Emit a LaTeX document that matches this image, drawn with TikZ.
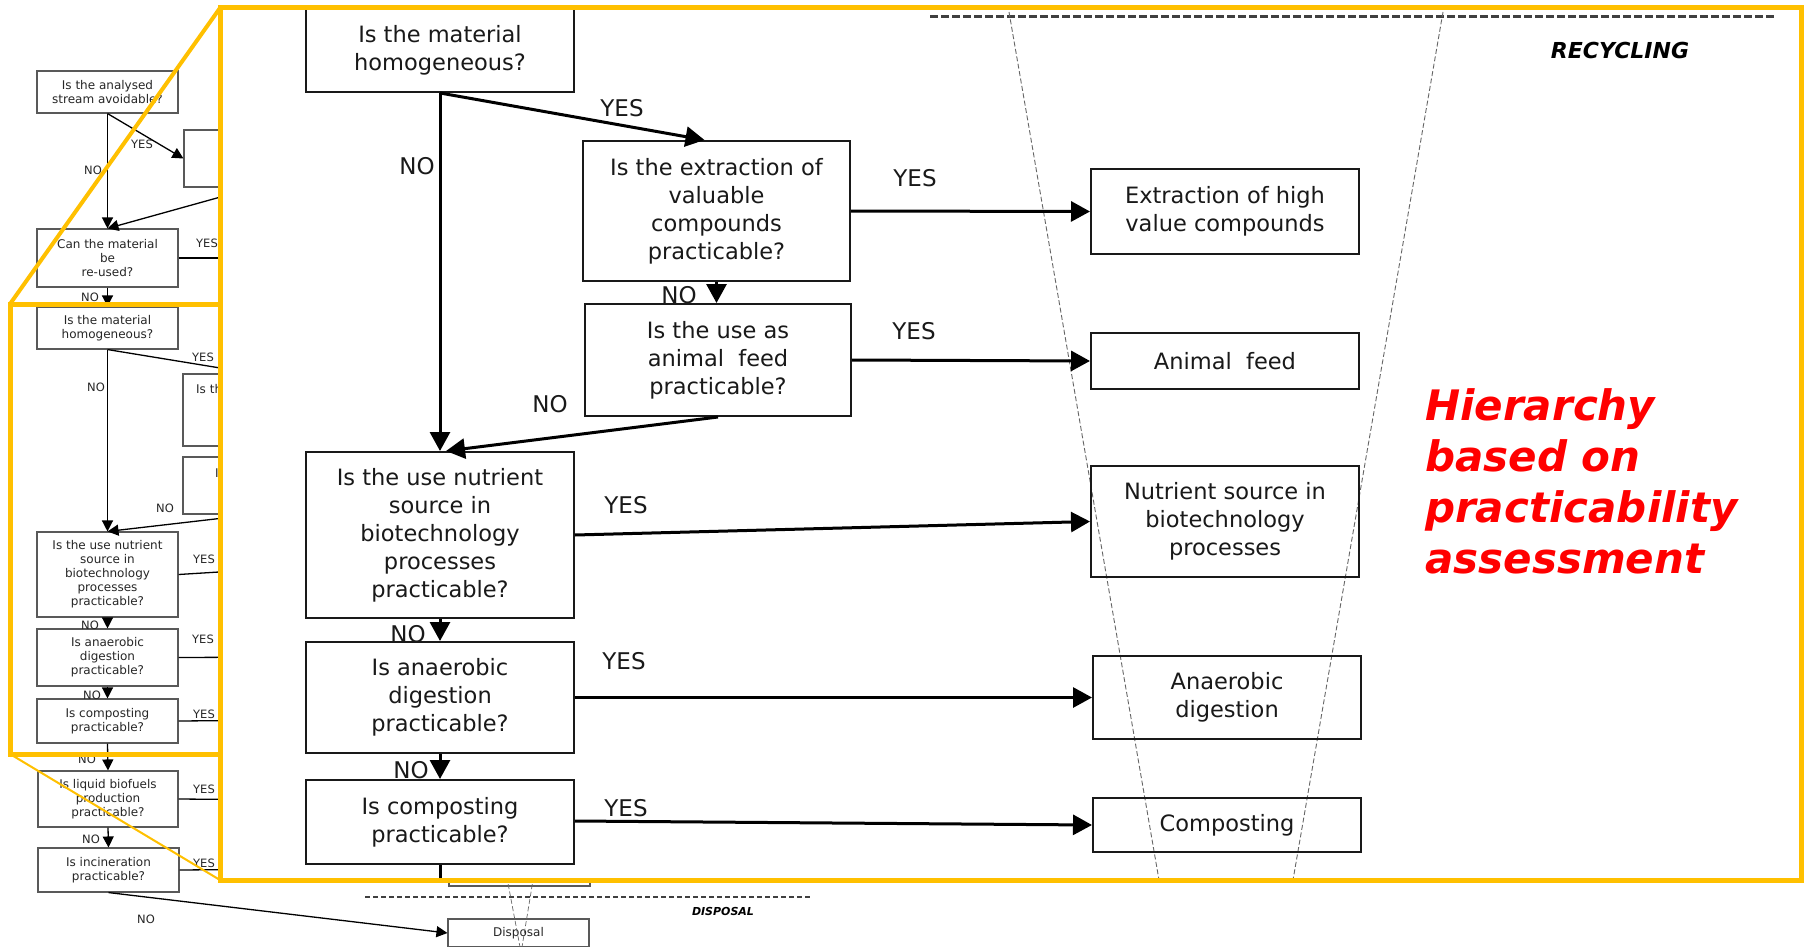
\documentclass[tikz,border=0pt]{standalone}
\usepackage{fontspec}
\setmainfont{DejaVu Sans}[BoldFont={DejaVu Sans Bold}, ItalicFont={DejaVu Sans Oblique}, BoldItalicFont={DejaVu Sans Bold Oblique}]
\usetikzlibrary{arrows.meta,calc}
\definecolor{zoomyellow}{HTML}{FFC000}
\definecolor{hred}{HTML}{FF0000}
\begin{document}
\begin{tikzpicture}[x=1pt,y=-1pt,
 sbox/.style={draw=black!65, line width=1.1pt, inner sep=0pt, align=center, font=\fontsize{12}{14}\selectfont, text=black!85},
 sline/.style={line width=1.3pt, black},
 sarrow/.style={sline, -{Triangle[length=11pt,width=11pt]}},
 slabel/.style={font=\fontsize{11.5}{14}\selectfont, inner sep=0pt, text=black!85},
 bbox/.style={draw=black!90, line width=2pt, inner sep=0pt, align=center, font=\fontsize{22.5}{28}\selectfont, text=black!90},
 bline/.style={line width=3pt, black},
 barrow/.style={bline, -{Triangle[length=19pt,width=20pt]}},
 blabel/.style={font=\fontsize{23}{28}\selectfont, inner sep=0pt, text=black!90},
 funnel/.style={draw=black!60, line width=0.9pt, dash pattern=on 5pt off 2.5pt},
 levelline/.style={draw=black!75, line width=3pt, dash pattern=on 8pt off 3pt},
 smalllevel/.style={draw=black!75, line width=1.3pt, dash pattern=on 5pt off 3pt},
 leveltext/.style={font=\bfseries\itshape, inner sep=0pt},
 zoomframe/.style={draw=zoomyellow, line width=5pt},
 redtext/.style={font=\fontsize{42}{51}\selectfont\bfseries\itshape, text=hred, inner sep=0pt, align=left}
]
\useasboundingbox (0,0) rectangle (1806,947);
\fill[white] (0,0) rectangle (1806,947);

% ---------------- background (original scale) flowchart ----------------
\node[sbox, minimum width=141pt, minimum height=42pt] (av) at (107.5,92) {Is the analysed\\stream avoidable?};
\node[sbox, minimum width=141pt, minimum height=57pt] (prev) at (254.5,158.5) {};
\node[sbox, minimum width=141pt, minimum height=58pt] (can) at (107.5,258) {Can the material\\be\\re-used?};
\node[sbox, minimum width=141pt, minimum height=42pt] (homs) at (107.5,328) {Is the material\\homogeneous?};
\node[sbox, minimum width=141pt, minimum height=72pt] (exts) at (253.5,410) {};
\node[slabel, anchor=base west, font=\fontsize{12}{14}\selectfont] (extsfrag) at (196,393) {Is th};
\node[sbox, minimum width=141pt, minimum height=57pt] (anis) at (253.5,485.5) {};
\node[slabel, anchor=base west, font=\fontsize{12}{14}\selectfont] (anisfrag) at (215,477) {I};
\node[sbox, minimum width=141pt, minimum height=85pt] (nuts) at (107.5,574.5) {Is the use nutrient\\source in\\biotechnology\\processes\\practicable?};
\node[sbox, minimum width=141pt, minimum height=57pt] (anas) at (107.5,657.5) {Is anaerobic\\digestion\\practicable?};
\node[sbox, minimum width=141pt, minimum height=44pt] (coms) at (107.5,721) {Is composting\\practicable?};
\node[sbox, minimum width=140pt, minimum height=56pt] (liqs) at (108,799) {Is liquid biofuels\\production\\practicable?};
\node[sbox, minimum width=141pt, minimum height=44pt] (incs) at (108.5,870) {Is incineration\\practicable?};
\node[sbox, minimum width=141pt, minimum height=28pt] (incres) at (519.5,872) {};
\node[sbox, minimum width=141pt, minimum height=28pt] (disp) at (518.5,933) {Disposal};

\coordinate (canyes) at (300,258);
\coordinate (nutyes) at (300,567);
\coordinate (anayes) at (300,657);
\coordinate (comyes) at (300,720);
\coordinate (liqyes) at (300,800);
\coordinate (incyes) at (300,869);

\draw[sarrow] (av.south) -- (can.north);
\draw[sarrow] (av.south) -- (prev.west);
\draw[sarrow] (prev.south) -- (can.north);
\draw[sline] (can.east) -- (canyes);
\draw[sarrow] (can.south) -- (homs.north);
\draw[sarrow] (homs.south) -- (exts.north);
\draw[sarrow] (homs.south) -- (nuts.north);
\draw[sarrow] (anis.south) -- (nuts.north);
\draw[sline] (nuts.east) -- (nutyes);
\draw[sarrow] (nuts.south) -- (anas.north);
\draw[sline] (anas.east) -- (anayes);
\draw[sarrow] (anas.south) -- (coms.north);
\draw[sline] (coms.east) -- (comyes);
\draw[sarrow] (coms.south) -- (liqs.north);
\draw[sline] (liqs.east) -- (liqyes);
\draw[sarrow] (liqs.south) -- (incs.north);
\draw[sline] (incs.east) -- (incyes);
\draw[sarrow] (incs.south) -- (disp.west);

\node[slabel] (l1) at (142,144) {YES};
\node[slabel] (l2) at (93,170) {NO};
\node[slabel] (l3) at (207,243) {YES};
\node[slabel] (l4) at (90,297) {NO};
\node[slabel] (l5) at (203,357) {YES};
\node[slabel] (l6) at (96,387) {NO};
\node[slabel] (l7) at (165,508) {NO};
\node[slabel] (l8) at (204,559) {YES};
\node[slabel] (l9) at (90,625) {NO};
\node[slabel] (l10) at (203,639) {YES};
\node[slabel] (l11) at (92,695) {NO};
\node[slabel] (l12) at (204,714) {YES};
\node[slabel] (l13) at (87,759) {NO};
\node[slabel] (l14) at (204,789) {YES};
\node[slabel] (l15) at (91,839) {NO};
\node[slabel] (l16) at (204,863) {YES};
\node[slabel] (l17) at (146,919) {NO};

% disposal level
\coordinate (dlA) at (365,897);
\coordinate (dlB) at (810,897);
\draw[smalllevel] (dlA) -- (dlB);
\node[leveltext, font=\fontsize{11}{13}\selectfont\bfseries\itshape] (disptxt) at (723,911) {DISPOSAL};
\coordinate (sfA) at (504,862);
\coordinate (sfB) at (520,947);
\coordinate (sfC) at (536,862);
\coordinate (sfD) at (522,947);
\draw[funnel, line width=0.7pt] (sfA) -- (sfB);
\draw[funnel, line width=0.7pt] (sfC) -- (sfD);

% ---------------- zoomed view ----------------
\coordinate (zTL) at (220,8);
\coordinate (zBR) at (1801,880);
\fill[white] (zTL) rectangle (zBR);
\begin{scope}
\clip (zTL) rectangle (zBR);
% level line and funnel
\coordinate (rlA) at (930,17);
\coordinate (rlB) at (1776,17);
\draw[levelline] (rlA) -- (rlB);
\node[leveltext, font=\fontsize{22}{26}\selectfont\bfseries\itshape] (rectxt) at (1620,50) {RECYCLING};
\coordinate (fA) at (1009,12);
\coordinate (fB) at (1159,880);
\coordinate (fC) at (1443,12);
\coordinate (fD) at (1293,880);
\draw[funnel] (fA) -- (fB);
\draw[funnel] (fC) -- (fD);

% questions
\node[bbox, minimum width=268pt, minimum height=84pt] (hom) at (440,50) {Is the material\\homogeneous?};
\node[bbox, minimum width=267pt, minimum height=140pt] (ext) at (716.5,211) {Is the extraction of\\valuable\\compounds\\practicable?};
\node[bbox, minimum width=266pt, minimum height=112pt] (ani) at (718,360) {Is the use as\\animal\ \ feed\\practicable?};
\node[bbox, minimum width=268pt, minimum height=166pt] (nut) at (440,535) {Is the use nutrient\\source in\\biotechnology\\processes\\practicable?};
\node[bbox, minimum width=268pt, minimum height=111pt] (ana) at (440,697.5) {Is anaerobic\\digestion\\practicable?};
\node[bbox, minimum width=268pt, minimum height=84pt] (com) at (440,822) {Is composting\\practicable?};
% results
\node[bbox, minimum width=268pt, minimum height=85pt] (r1) at (1225,211.5) {Extraction of high\\value compounds};
\node[bbox, minimum width=268pt, minimum height=56pt] (r2) at (1225,361) {Animal\ \ feed};
\node[bbox, minimum width=268pt, minimum height=111pt] (r3) at (1225,521.5) {Nutrient source in\\biotechnology\\processes};
\node[bbox, minimum width=268pt, minimum height=83pt] (r4) at (1227,697.5) {Anaerobic\\digestion};
\node[bbox, minimum width=268pt, minimum height=54pt] (r5) at (1227,825) {Composting};

% connectors
\draw[barrow] (hom.south) -- ($(ext.north)+(-12,0)$);
\draw[barrow] (hom.south) -- (nut.north);
\draw[barrow] (ext.south) -- (ext.south |- ani.north);
\draw[barrow] (ani.south) -- ($(nut.north)+(6,0)$);
\draw[barrow] (ext.east) -- (r1.west);
\draw[barrow] (ani.east) -- (r2.west);
\draw[barrow] (nut.east) -- (r3.west);
\draw[barrow] (ana.east) -- (r4.west);
\draw[barrow] ($(com.east)+(0,-1)$) -- (r5.west);
\draw[barrow] (nut.south) -- (ana.north);
\draw[barrow] (ana.south) -- (com.north);
\coordinate (comdown) at (440,900);
\draw[bline] (com.south) -- (comdown);

% labels
\node[blabel] (b1) at (622,108) {YES};
\node[blabel] (b2) at (417,166) {NO};
\node[blabel] (b3) at (915,178) {YES};
\node[blabel] (b4) at (679,295) {NO};
\node[blabel] (b5) at (914,331) {YES};
\node[blabel] (b6) at (550,404) {NO};
\node[blabel] (b7) at (626,505) {YES};
\node[blabel] (b8) at (408,634) {NO};
\node[blabel] (b9) at (624,661) {YES};
\node[blabel] (b10) at (411,770) {NO};
\node[blabel] (b11) at (626,808) {YES};

\node[redtext, anchor=north west] (hier) at (1425,388) {Hierarchy\\based on\\practicability\\assessment};
\end{scope}

% ---------------- yellow zoom frames ----------------
\coordinate (sTL) at (10,304);
\coordinate (sBR) at (220,754);
\coordinate (sBL) at (10,754);
\coordinate (zBL) at (220,880);
\draw[zoomyellow, line width=4pt] (sTL) -- (zTL);
\draw[zoomyellow, line width=2pt] (sBL) -- (zBL);
\draw[zoomframe] (sTL) rectangle (sBR);
\draw[zoomframe] (zTL) rectangle (zBR);
\end{tikzpicture}
\end{document}
